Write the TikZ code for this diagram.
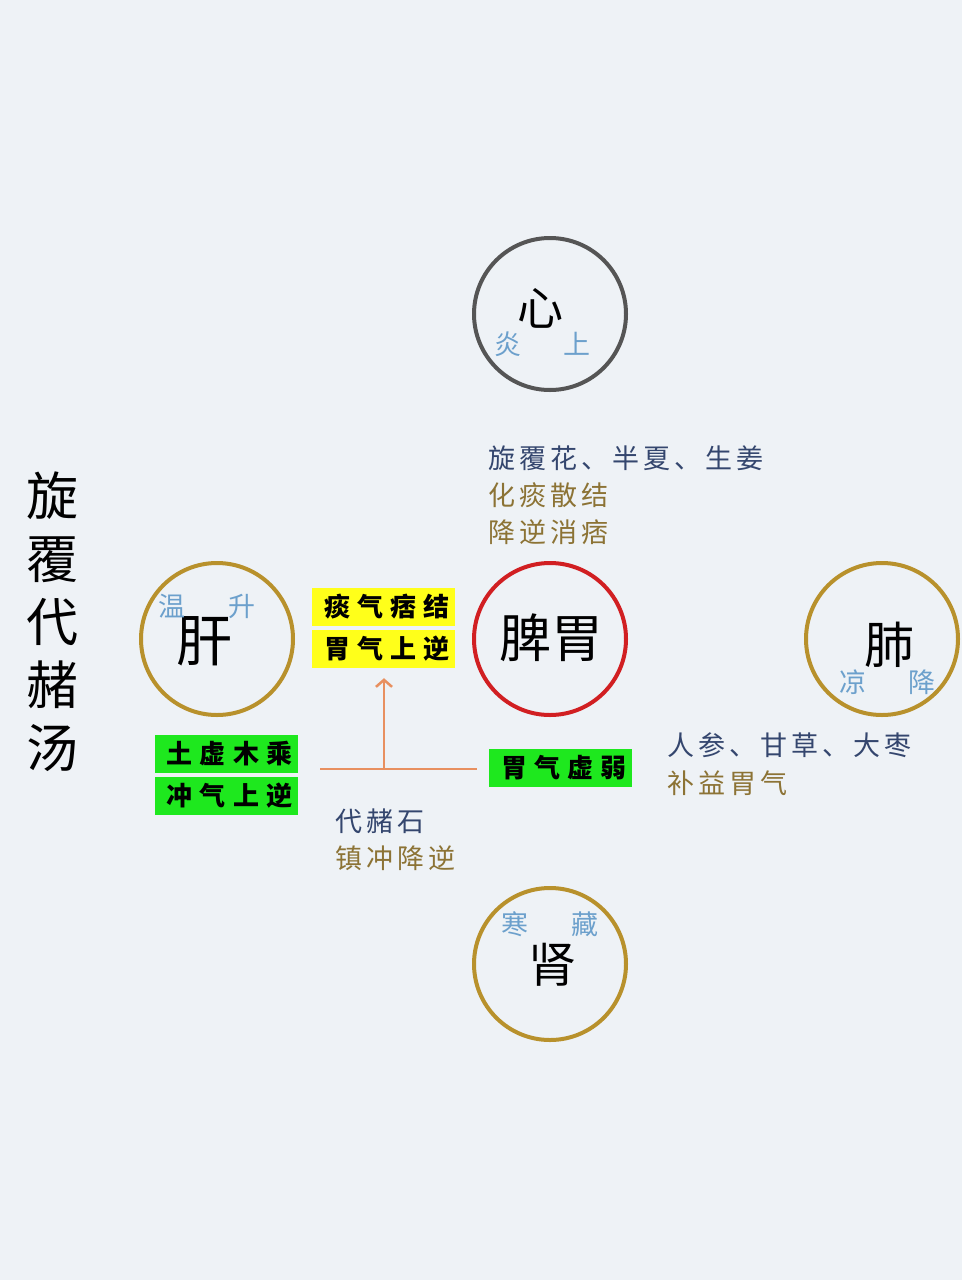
\documentclass[tikz,border=0pt]{standalone}
\usepackage{fontspec}
\setmainfont{Noto Sans CJK SC}
\usetikzlibrary{arrows.meta}
\definecolor{bgc}{HTML}{EEF2F6}
\definecolor{navy}{HTML}{34466E}
\definecolor{goldtxt}{HTML}{8C7335}
\definecolor{bluelbl}{HTML}{6CA0CC}
\definecolor{goldring}{HTML}{B8912C}
\definecolor{redring}{HTML}{D11F22}
\definecolor{greyring}{HTML}{555555}
\definecolor{orangeln}{HTML}{E89060}
\definecolor{yellowbx}{HTML}{FFFF1A}
\definecolor{greenbx}{HTML}{1EE81E}
\begin{document}
\begin{tikzpicture}[x=1pt,y=-1pt,
  ring/.style={circle, minimum size=152pt, inner sep=0pt, line width=4pt},
  organ/.style={inner sep=0pt, font=\fontsize{52}{52}\selectfont},
  qual/.style={inner sep=0pt, text=bluelbl, font=\fontsize{27}{27}\selectfont},
  herb/.style={anchor=west, inner sep=0pt, text=navy, font=\fontsize{27}{27}\selectfont\addfontfeature{LetterSpace=15}},
  effect/.style={anchor=west, inner sep=0pt, text=goldtxt, font=\fontsize{27}{27}\selectfont\addfontfeature{LetterSpace=15}},
  tag/.style={minimum width=143pt, minimum height=38pt, inner sep=0pt, font=\bfseries\fontsize{26}{26}\selectfont\addfontfeature{LetterSpace=28}},
  conn/.style={draw=orangeln, line width=2.5pt}
]
\useasboundingbox (0,0) rectangle (962,1280);
\fill[bgc] (0,0) rectangle (962,1280);

% title
\node[inner sep=0pt, align=center, font=\fontsize{52}{63}\selectfont] (title) at (53,622) {旋\\覆\\代\\赭\\汤};

% rings
\node[ring, draw=greyring] (heart) at (550,314) {};
\node[ring, draw=redring] (spleen) at (550,639) {};
\node[ring, draw=goldring] (liver) at (217,639) {};
\node[ring, draw=goldring] (lung) at (882,639) {};
\node[ring, draw=goldring] (kidney) at (550,964) {};

% organ names
\node[organ, font=\fontsize{46}{46}\selectfont] (xin) at (540,308) {心};
\node[qual] (yan) at (508,344) {炎};
\node[qual] (shang) at (577,344) {上};

\node[organ] (piwei) at (551,638) {脾胃};

\node[organ, font=\fontsize{56}{56}\selectfont] (gan) at (204,641) {肝};
\node[qual] (wen) at (172,606) {温};
\node[qual] (sheng) at (242,606) {升};

\node[organ, font=\fontsize{50}{50}\selectfont] (fei) at (889,645) {肺};
\node[qual] (liang) at (853,682) {凉};
\node[qual] (jiang) at (922,682) {降};

\node[organ, font=\fontsize{48}{48}\selectfont] (shen) at (552,965) {肾};
\node[qual] (han) at (515,924) {寒};
\node[qual] (cang) at (585,924) {藏};

% herb texts
\node[herb] (h1) at (488,458) {旋覆花、半夏、生姜};
\node[effect] (e1a) at (488,495) {化痰散结};
\node[effect] (e1b) at (488,532) {降逆消痞};

\node[herb] (h2) at (667,745) {人参、甘草、大枣};
\node[effect] (e2) at (667,783) {补益胃气};

\node[herb] (h3) at (335,821) {代赭石};
\node[effect] (e3) at (335,858) {镇冲降逆};

% tags
\node[tag, fill=yellowbx] (yb1) at (383.5,607) {\hspace*{7pt}痰气痞结};
\node[tag, fill=yellowbx] (yb2) at (383.5,649) {\hspace*{7pt}胃气上逆};
\node[tag, fill=greenbx] (gb1) at (226,754) {\hspace*{7pt}土虚木乘};
\node[tag, fill=greenbx] (gb2) at (226,796) {\hspace*{7pt}冲气上逆};
\node[tag, fill=greenbx] (gb3) at (560.5,768) {\hspace*{7pt}胃气虚弱};

% connectors
\coordinate (hl) at (320,769);
\coordinate (hr) at (477,769);
\coordinate (j) at (384,769);
\draw[conn] (hl) -- (hr);
\draw[conn, -{Straight Barb[length=7pt,width=16pt,line width=2.5pt]}, shorten >=10pt] (j) -- (j |- yb2.south);
\end{tikzpicture}
\end{document}
